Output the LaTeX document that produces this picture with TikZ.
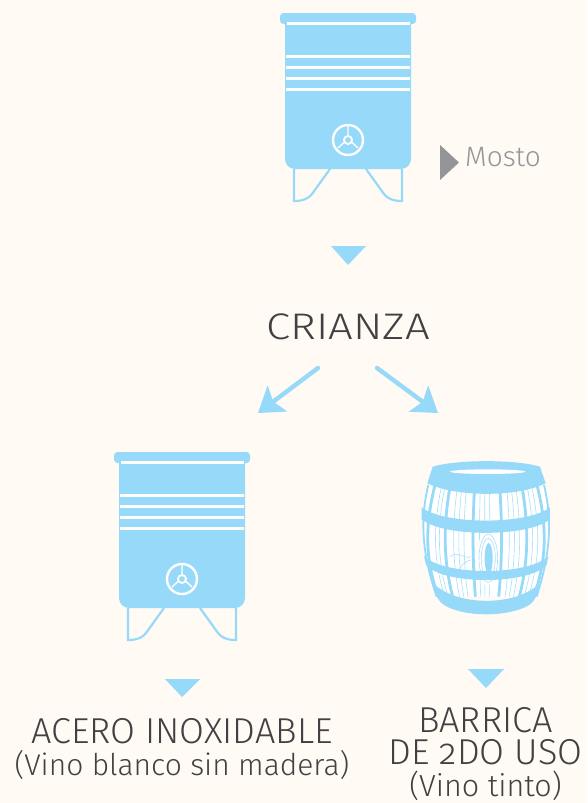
\documentclass[tikz,border=0pt]{standalone}
\usepackage{fontspec}
\setmainfont{Fira Sans}[UprightFont=* Light,Numbers=OldStyle]
\usetikzlibrary{arrows.meta}
\definecolor{bgc}{HTML}{FFFAF4}
\definecolor{tankblue}{HTML}{96D9F9}
\definecolor{grain}{HTML}{A8E0FA}
\definecolor{dark}{HTML}{414042}
\definecolor{midgray}{HTML}{939598}
\newcommand{\capsz}{\fontsize{36}{32}\selectfont}
\newcommand{\subsz}[1]{\fontsize{#1}{32}\selectfont}
\tikzset{
  tri/.style={fill=tankblue,draw=none},
  flow/.style={draw=tankblue,line width=4.4pt,line cap=round,-{Stealth[length=24pt,width=32pt,inset=5pt]}},
  label/.style={text=dark,inner sep=0pt,align=center,font=\fontsize{30}{32}\selectfont},
  tank/.pic={
    \fill[tankblue,rounded corners=3.5pt] (-68,13) rectangle (68,24);
    \fill[tankblue,rounded corners=10pt] (-63,18) -- (63,18) -- (63,169) -- (-63,169) -- cycle;
    \fill[tankblue] (-63,18) rectangle (63,30);
    \foreach \yy in {55,66,77,88} {\fill[white] (-62,\yy) rectangle (62,\yy+3);}
    \fill[white] (-61,22) rectangle (62,25);
    \draw[white,line width=2.4pt] (0,140) circle[radius=15];
    \draw[white,line width=1.8pt] (0,140) circle[radius=4];
    \draw[white,line width=1.4pt] (0,136) -- (0,126) (3.5,142) -- (10,148) (-3.5,142) -- (-10,148);
    \draw[tankblue,line width=2.2pt] (-54,169) -- (-54,201) .. controls (-44,201) and (-39,198) .. (-36,194) -- (-18,169);
    \draw[tankblue,line width=2.2pt] (54,169) -- (54,201) .. controls (44,201) and (39,198) .. (36,194) -- (18,169);
  }
}
\begin{document}
\begin{tikzpicture}[x=1pt,y=-1pt]
\useasboundingbox[fill=bgc] (0,0) rectangle (587,803);
% tanks
\pic at (348,0) {tank};
\pic at (182,439) {tank};
% small triangles
\fill[tri] (331,246) -- (366,246) -- (348,265) -- cycle;
\fill[tri] (165,679) -- (200,679) -- (182,697) -- cycle;
\fill[tri] (468,669) -- (504,669) -- (486,688) -- cycle;
\fill[midgray] (440,145) -- (459,162.5) -- (440,180) -- cycle;
% texts
\node[anchor=base west,inner sep=0pt,text=midgray,font=\fontsize{28}{30}\selectfont] (mosto) at (465,166) {Mosto};
\node[anchor=base,inner sep=0pt,text=dark,font=\fontsize{37}{38}\selectfont\addfontfeature{FakeStretch=1.18}] (crianza) at (348,339) {CRIANZA};
\node[label,anchor=north] (acero) at (182,718) {\capsz ACERO INOXIDABLE\\\subsz{30}(Vino blanco sin madera)};
\node[label,anchor=north] (barrica) at (485.5,707.5) {\capsz BARRICA\\\capsz DE 2DO USO\\\subsz{30.5}(Vino tinto)};
% arrows
\coordinate (al0) at (318,368);
\coordinate (al1) at (258,413);
\coordinate (ar0) at (377,368);
\coordinate (ar1) at (438,413);
\draw[flow] (al0) -- (al1);
\draw[flow] (ar0) -- (ar1);
% barrel
\begin{scope}[shift={(400,450)},x=0.3333pt,y=-0.3333pt]
  % body
  \fill[white] (85,105) .. controls (62,200) and (62,300) .. (110,440) -- (410,440) .. controls (455,300) and (455,200) .. (432,105) -- cycle;
  \draw[tankblue,line width=1.8pt] (85,105) .. controls (62,200) and (62,300) .. (110,440);
  \draw[tankblue,line width=1.8pt] (432,105) .. controls (455,200) and (455,300) .. (410,440);
  % grain
  \begin{scope}
  \clip (85,105) .. controls (62,200) and (62,300) .. (110,440) -- (410,440) .. controls (455,300) and (455,200) .. (432,105) -- cycle;
  \foreach \k in {-0.78,-0.72,-0.5,-0.42,-0.34,-0.1,-0.02,0.06,0.36,0.44,0.52,0.72,0.8} {
    \draw[grain,line width=0.6pt] ({258+\k*170},105) .. controls ({258+\k*205},230) and ({258+\k*205},340) .. ({258+\k*150},460);
  }
  % knots
  \fill[white] (262,325) ellipse[x radius=32,y radius=80];
  \foreach \rr/\ss in {28/72,21/60} {\draw[grain,line width=0.6pt] (265,325) ellipse[x radius=\rr,y radius=\ss];}
  \fill[tankblue] (266,325) ellipse[x radius=12,y radius=46];
  \draw[grain,line width=0.6pt] (150,320) .. controls (175,300) and (195,330) .. (212,320);
  \draw[grain,line width=0.6pt] (175,370) .. controls (180,345) and (195,335) .. (212,330);
  % stave gaps
  \foreach \k in {-0.9,-0.63,-0.2,0.24,0.63,0.9} {
    \draw[tankblue,line width=2.8pt] ({258+\k*170},105) .. controls ({258+\k*205},230) and ({258+\k*205},340) .. ({258+\k*150},460);
  }
  \end{scope}
  % top rim
  \fill[tankblue] (82,100) -- (98,50) .. controls (170,28) and (350,28) .. (420,50) -- (437,100) .. controls (350,142) and (170,142) .. (82,100) -- cycle;
  \fill[white] (263,65) ellipse[x radius=113,y radius=7];
  % upper band
  \fill[tankblue] (65,172) .. controls (130,225) and (385,225) .. (450,172) -- (450,208) .. controls (385,262) and (130,262) .. (65,208) -- cycle;
  % lower band
  \fill[tankblue] (72,318) .. controls (130,378) and (385,378) .. (445,318) -- (440,345) .. controls (385,405) and (130,405) .. (78,345) -- cycle;
  % bottom
  \fill[tankblue] (100,400) .. controls (170,470) and (350,470) .. (418,400) .. controls (412,450) and (395,462) .. (375,472) .. controls (310,500) and (205,500) .. (145,472) .. controls (125,462) and (105,448) .. (100,400) -- cycle;
\end{scope}
\end{tikzpicture}
\end{document}
